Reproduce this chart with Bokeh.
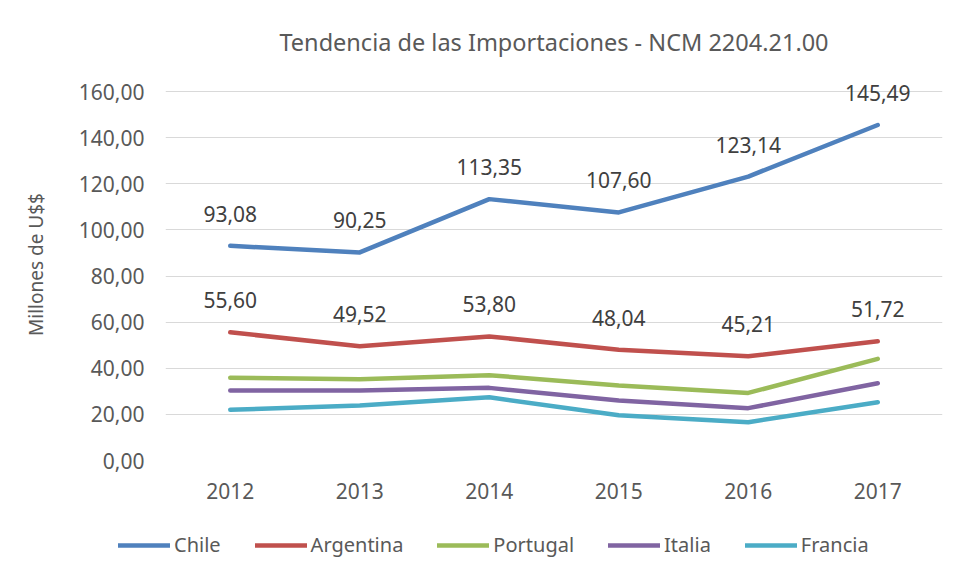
from bokeh.plotting import figure
from bokeh.layouts import column
from bokeh.models import (FixedTicker, CustomJSTickFormatter, Legend, LegendItem,
                          Range1d, Title)
from bokeh.core.properties import value
from bokeh.embed import file_html
from bokeh.resources import INLINE

years = [2012, 2013, 2014, 2015, 2016, 2017]
chile = [93.08, 90.25, 113.35, 107.60, 123.14, 145.49]
argentina = [55.60, 49.52, 53.80, 48.04, 45.21, 51.72]
portugal = [35.9, 35.2, 37.0, 32.5, 29.3, 44.1]
italia = [30.4, 30.4, 31.5, 26.0, 22.7, 33.5]
francia = [22.0, 23.9, 27.4, 19.6, 16.6, 25.3]
y_ticks = [0, 20, 40, 60, 80, 100, 120, 140, 160]

series = [
    ("Chile", chile, "#4F81BD"),
    ("Argentina", argentina, "#C0504D"),
    ("Portugal", portugal, "#9BBB59"),
    ("Italia", italia, "#8064A2"),
    ("Francia", francia, "#4BACC6"),
]
labelled = ["Chile", "Argentina"]

FONT = "Noto Sans"
TXT = "#595959"

# main chart (top range leaves room for the data labels above the 160 line)
p = figure(width=958, height=520, output_backend="svg", toolbar_location=None,
           x_range=Range1d(2011.5, 2017.5), y_range=Range1d(0, 170),
           min_border_left=165, min_border_right=16, min_border_top=68,
           min_border_bottom=60)
p.frame_align = False
p.outline_line_color = None

t = Title(text="Tendencia de las Importaciones - NCM 2204.21.00", align="center",
          text_font=FONT, text_font_size="23.5px", text_font_style="normal",
          text_color=TXT, standoff=22)
p.add_layout(t, "above")

p.xgrid.grid_line_color = None
p.ygrid.grid_line_color = "#d9d9d9"
p.ygrid.grid_line_width = 1

p.xaxis.ticker = FixedTicker(ticks=years)
p.xaxis.major_label_overrides = {y: str(y) for y in years}
p.yaxis.ticker = FixedTicker(ticks=y_ticks)
p.yaxis.formatter = CustomJSTickFormatter(code="return tick.toFixed(2).replace('.', ',');")
for ax in (p.xaxis, p.yaxis):
    ax.axis_line_color = None
    ax.major_tick_line_color = None
    ax.minor_tick_line_color = None
    ax.major_label_text_font = FONT
    ax.major_label_text_font_size = "21px"
    ax.major_label_text_color = TXT
p.xaxis.major_label_standoff = 16
p.yaxis.major_label_standoff = 15
p.yaxis.axis_label = "Millones de U$$"
p.yaxis.axis_label_text_font = FONT
p.yaxis.axis_label_text_font_size = "19px"
p.yaxis.axis_label_text_font_style = "normal"
p.yaxis.axis_label_text_color = TXT
p.yaxis.axis_label_standoff = 27

for name, vals, color in series:
    p.line(years, vals, line_color=color, line_width=4.5, line_cap="round",
           line_join="round")
    if name in labelled:
        p.text(years, vals, text=[f"{v:.2f}".replace(".", ",") for v in vals],
               text_font=value(FONT), text_font_size="21px", text_color="#404040",
               text_align="center", text_baseline="middle", y_offset=-32)

# legend strip below the chart (its lines lie outside its ranges; only the legend shows)
lg = figure(width=958, height=59, output_backend="svg", toolbar_location=None,
            x_range=Range1d(0, 1), y_range=Range1d(0, 1),
            x_axis_location=None, y_axis_location=None,
            min_border_left=0, min_border_right=0, min_border_top=0,
            min_border_bottom=0)
lg.frame_align = False
lg.outline_line_color = None
lg.grid.grid_line_color = None
items = []
for name, vals, color in series:
    r = lg.line(years, vals, line_color=color, line_width=4.5, line_cap="round")
    items.append(LegendItem(label=name, renderers=[r]))

legend = Legend(items=items, orientation="horizontal", location=(118, 21),
                label_text_font=FONT, label_text_font_size="20px", label_text_color=TXT,
                glyph_width=52, glyph_height=20, label_standoff=4, spacing=34,
                padding=0, margin=0, border_line_color=None, background_fill_alpha=0)
lg.add_layout(legend, "center")

open("out.html", "w").write(file_html(column(p, lg, spacing=0), INLINE))
